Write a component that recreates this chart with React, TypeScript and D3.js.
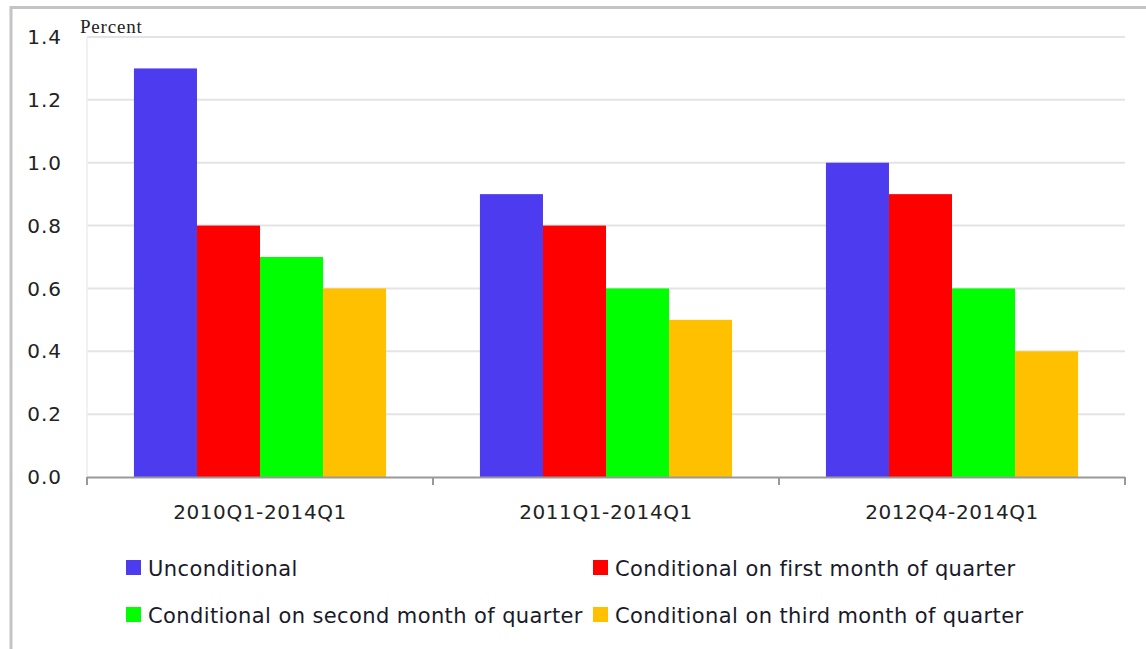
import { useEffect, useRef } from "react";
import * as d3 from "d3";

const categories = ["2010Q1-2014Q1", "2011Q1-2014Q1", "2012Q4-2014Q1"];
const seriesNames = [
  "Unconditional",
  "Conditional on first month of quarter",
  "Conditional on second month of quarter",
  "Conditional on third month of quarter",
];
const unconditional = [1.3, 0.9, 1.0];
const firstMonth = [0.8, 0.8, 0.9];
const secondMonth = [0.7, 0.6, 0.6];
const thirdMonth = [0.6, 0.5, 0.4];
const yTicks = [0, 0.2, 0.4, 0.6, 0.8, 1.0, 1.2, 1.4];
const colors = ["#4d3bef", "#ff0000", "#00ff00", "#ffc000"];

const W = 1146;
const H = 649;
const font = "'DejaVu Sans', Verdana, sans-serif";

const App: React.FC = () => {
  const svgRef = useRef<SVGSVGElement | null>(null);

  useEffect(() => {
    if (!svgRef.current) return;
    const svg = d3.select(svgRef.current);
    svg.selectAll("*").remove();

    const left = 87;
    const right = 1125;
    const top = 37;
    const bottom = 477;

    const series = [unconditional, firstMonth, secondMonth, thirdMonth];

    // outer frame
    svg
      .append("rect")
      .attr("x", 11)
      .attr("y", 7.5)
      .attr("width", W)
      .attr("height", H)
      .attr("fill", "#fff")
      .attr("stroke", "#c4c4c4")
      .attr("stroke-width", 3);

    const x0 = d3.scaleBand<string>().domain(categories).range([left, right]);
    const x1 = d3
      .scaleBand<number>()
      .domain(d3.range(series.length))
      .range([0, x0.bandwidth()])
      .paddingOuter(0.745)
      .paddingInner(0);
    const y = d3.scaleLinear().domain([0, 1.4]).range([bottom, top]);

    // gridlines
    svg
      .append("g")
      .selectAll("line")
      .data(yTicks.filter((t) => t > 0))
      .enter()
      .append("line")
      .attr("x1", left)
      .attr("x2", right)
      .attr("y1", (d) => y(d))
      .attr("y2", (d) => y(d))
      .attr("stroke", "#e4e4e4")
      .attr("stroke-width", 2);

    // y axis faint line
    svg
      .append("line")
      .attr("x1", left)
      .attr("x2", left)
      .attr("y1", top)
      .attr("y2", bottom)
      .attr("stroke", "#ececec")
      .attr("stroke-width", 1.5);

    // y labels
    svg
      .append("g")
      .selectAll("text")
      .data(yTicks)
      .enter()
      .append("text")
      .attr("x", 62)
      .attr("y", (d) => y(d))
      .attr("dy", "0.36em")
      .attr("text-anchor", "end")
      .attr("font-family", font)
      .attr("font-size", 20)
      .attr("letter-spacing", 1)
      .attr("fill", "#222")
      .text((d) => d.toFixed(1));

    svg
      .append("text")
      .attr("x", 80)
      .attr("y", 33)
      .attr("font-family", "'Liberation Serif', 'Times New Roman', serif")
      .attr("font-size", 19)
      .attr("letter-spacing", 0.8)
      .attr("fill", "#222")
      .text("Percent");

    // bars
    const groups = svg
      .append("g")
      .selectAll("g")
      .data(categories)
      .enter()
      .append("g")
      .attr("transform", (d) => `translate(${x0(d)},0)`);

    groups
      .selectAll("rect")
      .data((_, ci) => series.map((s, si) => ({ si, v: s[ci] })))
      .enter()
      .append("rect")
      .attr("x", (d) => x1(d.si)!)
      .attr("width", x1.bandwidth())
      .attr("y", (d) => y(d.v))
      .attr("height", (d) => bottom - y(d.v))
      .attr("fill", (d) => colors[d.si]);

    // x axis
    svg
      .append("line")
      .attr("x1", left)
      .attr("x2", right)
      .attr("y1", bottom + 0.5)
      .attr("y2", bottom + 0.5)
      .attr("stroke", "#999")
      .attr("stroke-width", 2);

    const tickXs = [left, ...categories.map((c) => x0(c)! + x0.bandwidth())];
    svg
      .append("g")
      .selectAll("line")
      .data(tickXs)
      .enter()
      .append("line")
      .attr("x1", (d) => d)
      .attr("x2", (d) => d)
      .attr("y1", bottom)
      .attr("y2", bottom + 8)
      .attr("stroke", "#999")
      .attr("stroke-width", 2);

    svg
      .append("g")
      .selectAll("text")
      .data(categories)
      .enter()
      .append("text")
      .attr("x", (d) => x0(d)! + x0.bandwidth() / 2)
      .attr("y", 519)
      .attr("text-anchor", "middle")
      .attr("font-family", font)
      .attr("font-size", 20)
      .attr("letter-spacing", 0.6)
      .attr("fill", "#222")
      .text((d) => d);

    // legend
    const legendPos = [
      { x: 126, y: 568 },
      { x: 593, y: 568 },
      { x: 126, y: 615 },
      { x: 593, y: 615 },
    ];
    const leg = svg
      .append("g")
      .selectAll("g")
      .data(seriesNames)
      .enter()
      .append("g")
      .attr("transform", (_, i) => `translate(${legendPos[i].x},${legendPos[i].y})`);
    leg
      .append("rect")
      .attr("x", 0)
      .attr("y", -8)
      .attr("width", 15)
      .attr("height", 15)
      .attr("fill", (_, i) => colors[i]);
    leg
      .append("text")
      .attr("x", 22)
      .attr("y", 0)
      .attr("dy", "0.36em")
      .attr("font-family", font)
      .attr("font-size", 21)
      .attr("letter-spacing", 0.4)
      .attr("fill", "#1a1a2a")
      .text((d) => d);
  }, []);

  return (
    <svg
      ref={svgRef}
      width={W}
      height={H}
      style={{ position: "absolute", left: 0, top: 0, display: "block" }}
    ></svg>
  );
};

export default App;
